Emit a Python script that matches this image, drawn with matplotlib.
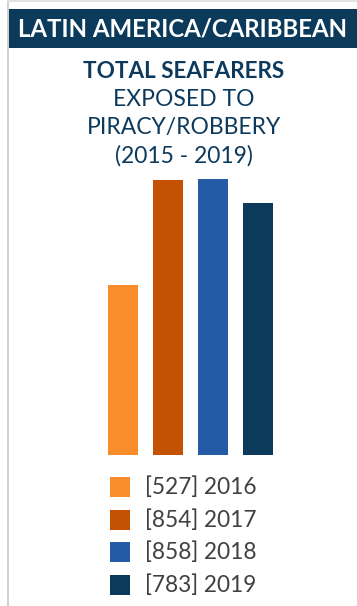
import matplotlib
matplotlib.use("Agg")
import matplotlib.pyplot as plt
from matplotlib.patches import Rectangle

years = ["2016", "2017", "2018", "2019"]
values = [527, 854, 858, 783]
colors = ["#F98D2B", "#C55103", "#245BA7", "#0B3A5A"]
region = "LATIN AMERICA/CARIBBEAN"
title_bold = "TOTAL SEAFARERS"
title_rest = ["EXPOSED TO", "PIRACY/ROBBERY", "(2015 - 2019)"]

W, H = 357, 606
fig = plt.figure(figsize=(W / 100, H / 100), dpi=100)
fig.patch.set_facecolor("white")

def fx(px):
    return px / W

def fy(py):
    return 1 - py / H

# borders
fig.patches.append(Rectangle((fx(7), fy(606)), fx(2), 1, transform=fig.transFigure,
                             facecolor="#D0D0D0", edgecolor="none"))
fig.patches.append(Rectangle((fx(7), fy(2)), 1, 2 / H, transform=fig.transFigure,
                             facecolor="#E2E2E2", edgecolor="none"))
# header band
fig.patches.append(Rectangle((fx(9), fy(48)), 1, 39 / H, transform=fig.transFigure,
                             facecolor="#0B3A5A", edgecolor="none"))
fig.text(fx(182), fy(29), region, color="white", fontsize=17.3, fontweight="bold",
         family="Lato", ha="center", va="center")

navy = "#0D3A5C"
fig.text(fx(184), fy(71), title_bold, color=navy, fontsize=16.2, fontweight="bold",
         family="Lato", ha="center", va="center")
for i, line in enumerate(title_rest):
    fig.text(fx(184), fy(99.5 + 28.3 * i), line, color=navy, fontsize=16.5,
             family="Lato", ha="center", va="center")

# bars
ax = fig.add_axes([fx(108), fy(455), fx(273) - fx(108), (455 - 170) / H])
x = list(range(len(values)))
ax.bar(x, values, width=0.667, color=colors)
ax.set_xlim(-0.333, 3.333)
ax.set_ylim(0, 886)
ax.axis("off")

# legend
for i, (v, yname, c) in enumerate(zip(values, years, colors)):
    ytop = 477 + 32.7 * i
    fig.patches.append(Rectangle((fx(110), fy(ytop + 20)), fx(20), 20 / H,
                                 transform=fig.transFigure, facecolor=c, edgecolor="none"))
    fig.text(fx(145), fy(ytop + 10), f"[{v}] {yname}", color="#404040", fontsize=16.3,
             family="Lato", ha="left", va="center")

fig.savefig("out.png", dpi=100)
